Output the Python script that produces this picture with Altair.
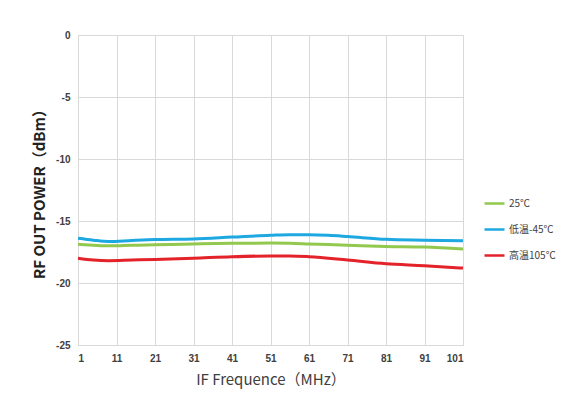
import altair as alt
import pandas as pd

series_names = ["25℃", "低温-45℃", "高温105℃"]
colors = ["#92C84E", "#1DA8E2", "#E3222A"]

freq_25 = [1, 5, 9, 15, 21, 31, 41, 51, 56, 61, 71, 81, 91, 101]
pow_25 = [-16.88, -16.95, -17.0, -16.96, -16.92, -16.85, -16.8, -16.78, -16.8, -16.85, -16.95, -17.05, -17.1, -17.25]

freq_low = [1, 5, 9, 15, 21, 31, 41, 51, 56, 61, 66, 71, 81, 91, 101]
pow_low = [-16.4, -16.55, -16.65, -16.57, -16.5, -16.45, -16.3, -16.15, -16.1, -16.1, -16.15, -16.25, -16.48, -16.55, -16.6]

freq_high = [1, 5, 9, 15, 21, 31, 41, 51, 56, 61, 71, 81, 91, 101]
pow_high = [-18.0, -18.15, -18.2, -18.15, -18.1, -18.0, -17.88, -17.82, -17.82, -17.88, -18.15, -18.45, -18.6, -18.8]

x_ticks = [1, 11, 21, 31, 41, 51, 61, 71, 81, 91, 101]
y_ticks = [0, -5, -10, -15, -20, -25]

rows = []
for name, fx, py in [(series_names[0], freq_25, pow_25),
                     (series_names[1], freq_low, pow_low),
                     (series_names[2], freq_high, pow_high)]:
    for f, p in zip(fx, py):
        rows.append({"freq": f, "power": p, "series": name})
df = pd.DataFrame(rows)

chart = alt.Chart(df).mark_line(strokeWidth=3, interpolate="monotone").encode(
    x=alt.X("freq:Q",
            scale=alt.Scale(domain=[1, 101], nice=False, zero=False),
            axis=alt.Axis(values=x_ticks, title="IF Frequence（MHz）",
                          titleFont="Noto Sans CJK SC", titleFontSize=15,
                          titleFontWeight="normal", titleColor="#404040",
                          titlePadding=9,
                          labelFont="Liberation Sans", labelFontSize=10,
                          labelFontWeight="bold", labelColor="#404040",
                          labelPadding=8, ticks=False, domain=False,
                          gridColor="#D9D9D9")),
    y=alt.Y("power:Q",
            scale=alt.Scale(domain=[-25, 0], nice=False),
            axis=alt.Axis(values=y_ticks, title="RF OUT POWER（dBm）",
                          labelExpr="datum.value == 0 ? '0' : '-' + abs(datum.value)",
                          titleFont="Noto Sans CJK SC", titleFontSize=15,
                          titleFontWeight="bold", titleColor="#222222",
                          titlePadding=8,
                          labelFont="Liberation Sans", labelFontSize=10,
                          labelFontWeight="bold", labelColor="#404040",
                          labelPadding=8, ticks=False, domain=False,
                          gridColor="#D9D9D9")),
    color=alt.Color("series:N",
                    scale=alt.Scale(domain=series_names, range=colors),
                    sort=series_names,
                    legend=alt.Legend(title=None, orient="none",
                                      legendX=405, legendY=157,
                                      symbolType="stroke", symbolSize=400,
                                      symbolStrokeWidth=2.5,
                                      labelFont="Noto Sans CJK SC",
                                      labelFontSize=10, labelColor="#404040",
                                      rowPadding=9, labelOffset=3)),
).properties(
    width=385, height=310,
    autosize=alt.AutoSizeParams(type="none"),
    padding={"left": 70, "top": 27, "right": 97, "bottom": 47},
).configure_view(stroke=None).configure(background="white")

chart.save("out.html", embed_options={"renderer": "svg", "actions": False})
